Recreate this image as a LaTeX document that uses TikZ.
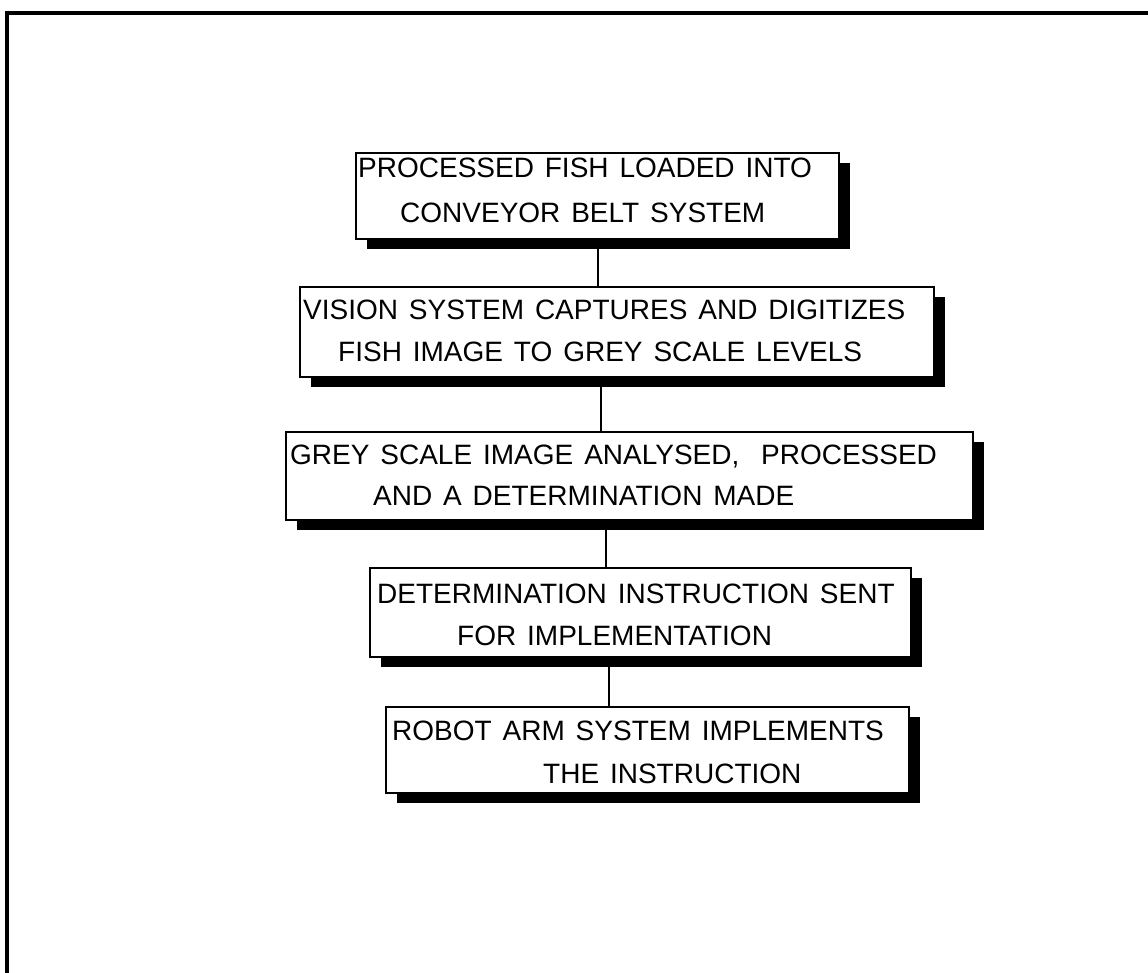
\documentclass[tikz,border=0pt]{standalone}
\usepackage{fontspec}
\setmainfont{Liberation Sans}[WordSpace=1.4]
\usetikzlibrary{shadows}
\newcommand\boxfont{\fontsize{28}{34}\selectfont}
\begin{document}
\begin{tikzpicture}[x=1pt,y=-1pt,
  stepbox/.style={draw=black, line width=2pt, fill=white, rectangle, inner sep=0pt,
    drop shadow={shadow xshift=11pt, shadow yshift=-10pt, opacity=1, fill=black}},
  linetxt/.style={anchor=base west, inner sep=0pt, font=\boxfont},
  conn/.style={line width=1.4pt},
  frame/.style={line width=3.4pt}]
\useasboundingbox (0,0) rectangle (1148,973);
% frame
\coordinate (ftl) at (7,13);
\coordinate (ftr) at (1148,13);
\coordinate (fbl) at (7,973);
\draw[frame] (fbl) -- (ftl) -- (ftr);
% boxes
\node[stepbox, minimum width=483pt, minimum height=86pt] (b1) at (597.5,196) {};
\node[stepbox, minimum width=634pt, minimum height=90pt] (b2) at (617,332) {};
\node[stepbox, minimum width=687pt, minimum height=88pt] (b3) at (629.5,476) {};
\node[stepbox, minimum width=541pt, minimum height=89pt] (b4) at (640.5,612.5) {};
\node[stepbox, minimum width=523pt, minimum height=86pt] (b5) at (647.5,750) {};
% texts
\node[linetxt] (t11) at (358,178) {PROCESSED FISH LOADED INTO};
\node[linetxt] (t12) at (400,223) {CONVEYOR BELT SYSTEM};
\node[linetxt] (t21) at (303,320) {VISION SYSTEM CAPTURES AND DIGITIZES};
\node[linetxt] (t22) at (338,362) {FISH IMAGE TO GREY SCALE LEVELS};
\node[linetxt] (t31) at (290,464) {GREY SCALE IMAGE ANALYSED,\ \ PROCESSED};
\node[linetxt] (t32) at (373,505) {AND A DETERMINATION MADE};
\node[linetxt] (t41) at (377,603) {DETERMINATION INSTRUCTION SENT};
\node[linetxt] (t42) at (457,645) {FOR IMPLEMENTATION};
\node[linetxt] (t51) at (392,740) {ROBOT ARM SYSTEM IMPLEMENTS};
\node[linetxt] (t52) at (543,783) {THE INSTRUCTION};
% connectors
\coordinate (x1) at (598,0);
\coordinate (x2) at (601,0);
\coordinate (x3) at (606,0);
\coordinate (x4) at (609,0);
\draw[conn] (b1.south -| x1) -- (b2.north -| x1);
\draw[conn] (b2.south -| x2) -- (b3.north -| x2);
\draw[conn] (b3.south -| x3) -- (b4.north -| x3);
\draw[conn] (b4.south -| x4) -- (b5.north -| x4);
\end{tikzpicture}
\end{document}
